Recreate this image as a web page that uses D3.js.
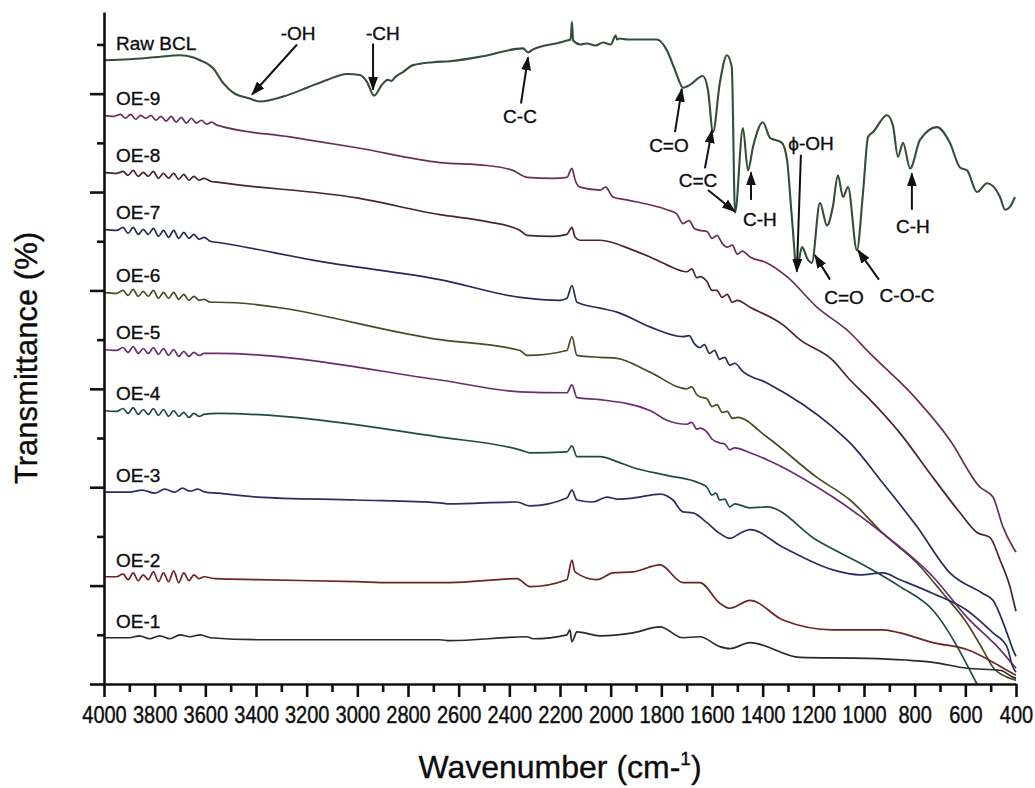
<!DOCTYPE html>
<html>
<head>
<meta charset="utf-8">
<script src="https://cdn.jsdelivr.net/npm/d3@7"></script>
<style>
  body { margin: 0; background: #fff; }
  text { font-family: "Liberation Sans", Arial, sans-serif; fill: #0d0d0d; stroke: #0d0d0d; stroke-width: 0.35px; }
</style>
</head>
<body>
<div id="chart"></div>
<script>
// FTIR spectra: [wavenumber (cm-1), transmittance (offset, a.u.)]
var seriesNames = ["Raw BCL", "OE-9", "OE-8", "OE-7", "OE-6", "OE-5", "OE-4", "OE-3", "OE-2", "OE-1"];
var seriesColors = ["#364d3a", "#6b2f55", "#4a2430", "#262a5a", "#4b4a22", "#6b2c6e", "#1f4a48", "#2a2e60", "#6e2424", "#2a2a2a"];

var rawBCL = [[4000,63.4],[3900,63.5],[3800,63.7],[3700,63.9],[3650,63.7],[3621,63.4],[3570,62.6],[3530,61.1],[3490,60.1],[3424,59.5],[3384,59.2],[3293,59.7],[3199,60.6],[3120,61.4],[3041,62.0],[2990,61.9],[2962,61.2],[2934,59.8],[2903,60.9],[2880,61.4],[2865,61.3],[2850,61.7],[2820,62.2],[2780,62.9],[2701,63.2],[2634,63.3],[2504,63.8],[2346,64.6],[2326,64.2],[2306,64.5],[2200,65.2],[2173,65.4],[2158,65.5],[2153,67.3],[2148,65.4],[2120,65.0],[2094,65.1],[2060,64.9],[2030,65.2],[2000,65.0],[1980,65.9],[1975,65.5],[1965,65.6],[1935,65.5],[1817,65.5],[1778,64.4],[1746,62.4],[1714,60.6],[1687,60.9],[1636,61.8],[1616,60.4],[1596,56.1],[1569,61.1],[1541,63.9],[1522,62.7],[1509,47.9],[1478,56.5],[1458,52.2],[1438,54.6],[1399,57.1],[1371,55.5],[1351,55.3],[1324,55.0],[1304,53.3],[1284,47.2],[1265,42.1],[1245,44.4],[1221,43.1],[1206,42.8],[1174,48.9],[1146,46.6],[1123,48.5],[1103,51.7],[1083,49.5],[1063,50.5],[1028,44.1],[1004,49.9],[984,55.6],[964,56.1],[909,57.8],[886,56.8],[866,53.6],[846,55.0],[818,52.4],[779,55.3],[712,56.6],[661,55.0],[621,52.5],[593,52.2],[554,50.0],[514,50.9],[463,49.5],[443,48.2],[424,48.5],[404,49.5]];

var oe9 = [[4000,57.8],[3960,57.7],[3935,57.9],[3915,57.5],[3895,57.9],[3875,57.4],[3855,57.8],[3835,57.5],[3815,57.8],[3795,57.3],[3775,57.7],[3755,57.2],[3735,57.7],[3715,57.1],[3695,57.6],[3675,57.0],[3655,57.5],[3635,57.0],[3615,57.3],[3595,56.9],[3575,57.1],[3554,56.8],[3266,55.6],[3001,54.5],[2674,53.0],[2488,52.7],[2386,52.2],[2330,51.5],[2228,51.4],[2173,51.5],[2153,52.4],[2140,51.2],[2121,50.5],[2042,50.2],[2020,50.5],[1991,49.5],[1936,49.2],[1778,48.2],[1740,47.8],[1715,46.8],[1690,47.1],[1670,46.3],[1648,46.1],[1620,46.0],[1600,45.3],[1580,45.6],[1560,44.8],[1541,44.4],[1520,44.6],[1500,43.7],[1480,44.0],[1450,43.4],[1383,42.8],[1304,41.4],[1186,38.3],[1055,35.7],[988,33.9],[791,28.9],[661,24.8],[542,20.0],[491,19.0],[452,16.0],[412,13.9],[400,13.4]];

var oe8 = [[4000,52.0],[3950,51.9],[3925,52.1],[3905,51.7],[3885,52.2],[3865,51.6],[3845,52.0],[3825,51.6],[3805,52.1],[3785,51.4],[3765,51.9],[3745,51.4],[3725,51.9],[3705,51.3],[3685,51.8],[3665,51.2],[3645,51.6],[3625,51.2],[3605,51.4],[3580,51.1],[3554,51.0],[3001,49.4],[2674,47.7],[2488,47.0],[2358,46.1],[2330,45.6],[2228,45.5],[2173,45.7],[2153,46.4],[2140,45.4],[2121,45.1],[2042,45.1],[1912,44.1],[1845,43.4],[1778,42.6],[1700,41.9],[1680,42.2],[1660,41.3],[1648,41.4],[1620,40.9],[1600,40.0],[1581,40.0],[1560,39.3],[1540,39.6],[1520,38.8],[1500,39.0],[1450,38.3],[1320,36.5],[1253,35.0],[1123,32.9],[1055,30.9],[988,29.2],[858,25.5],[728,21.0],[621,17.4],[554,15.4],[503,14.9],[463,12.6],[424,9.9],[404,7.8],[400,7.4]];

var oe7 = [[4000,46.2],[3950,46.1],[3925,46.4],[3905,45.8],[3885,46.4],[3865,45.7],[3845,46.2],[3825,45.7],[3805,46.3],[3785,45.5],[3765,46.1],[3745,45.4],[3725,46.1],[3705,45.3],[3685,45.9],[3665,45.3],[3645,45.7],[3625,45.2],[3605,45.4],[3580,45.0],[3554,44.9],[3136,42.9],[2674,41.1],[2358,39.3],[2200,39.0],[2173,39.2],[2153,40.5],[2133,38.8],[2042,38.2],[1975,37.8],[1845,36.3],[1715,35.3],[1690,35.4],[1670,34.6],[1648,34.2],[1630,34.5],[1610,33.6],[1590,33.9],[1570,33.0],[1550,33.2],[1530,32.4],[1510,32.6],[1480,31.8],[1383,30.6],[1123,26.1],[1055,24.5],[925,20.4],[791,16.0],[661,11.3],[531,9.2],[491,8.5],[436,5.2],[412,3.5],[400,2.8]];

var oe6 = [[4000,39.8],[3950,39.7],[3925,40.0],[3905,39.5],[3885,40.1],[3865,39.4],[3845,39.9],[3825,39.4],[3805,40.0],[3785,39.2],[3765,39.8],[3745,39.2],[3725,39.8],[3705,39.1],[3685,39.6],[3665,39.0],[3645,39.4],[3625,39.0],[3605,39.1],[3580,38.8],[3554,38.8],[2674,35.0],[2358,33.9],[2330,33.4],[2173,33.9],[2153,35.3],[2133,33.4],[2042,33.2],[1975,33.1],[1845,31.7],[1700,30.0],[1680,30.2],[1660,29.4],[1648,29.2],[1620,29.0],[1600,28.2],[1580,28.4],[1560,27.6],[1540,27.7],[1520,27.0],[1500,27.1],[1383,25.1],[1186,21.0],[1055,18.7],[925,15.3],[791,12.3],[688,9.2],[594,6.2],[531,3.5],[491,1.7],[436,0.7],[400,0.4]];

var oe5 = [[4000,34.0],[3950,33.9],[3925,34.2],[3905,33.7],[3885,34.3],[3865,33.6],[3845,34.1],[3825,33.6],[3805,34.2],[3785,33.5],[3765,34.1],[3745,33.4],[3725,34.0],[3705,33.3],[3685,33.8],[3665,33.3],[3645,33.7],[3625,33.4],[3605,33.6],[3554,33.6],[2674,30.9],[2358,29.7],[2173,29.6],[2153,30.4],[2133,29.1],[2042,28.9],[1845,27.8],[1778,26.8],[1700,26.4],[1680,26.6],[1660,25.9],[1648,26.0],[1620,25.6],[1600,24.9],[1569,24.5],[1550,24.4],[1530,23.8],[1510,24.0],[1450,23.5],[1383,22.8],[1123,19.0],[925,15.3],[728,10.9],[594,6.8],[463,3.5],[400,1.6]];

var oe4 = [[4000,27.8],[3950,27.7],[3925,28.0],[3905,27.5],[3885,28.1],[3865,27.4],[3845,27.9],[3825,27.4],[3805,28.0],[3785,27.3],[3765,27.9],[3745,27.2],[3725,27.8],[3705,27.2],[3685,27.6],[3665,27.1],[3645,27.5],[3625,27.2],[3605,27.4],[3554,27.5],[2674,25.1],[2358,23.8],[2319,23.5],[2173,23.6],[2153,24.2],[2133,23.1],[2042,23.1],[1975,22.6],[1912,22.0],[1778,21.2],[1648,20.4],[1620,20.0],[1600,19.2],[1585,19.4],[1569,18.7],[1550,18.8],[1530,18.0],[1510,18.3],[1450,17.9],[1383,18.0],[1186,14.6],[988,11.9],[858,9.9],[728,7.5],[554,0.0]];

var oe3 = [[4000,19.5],[3900,19.5],[3850,19.7],[3800,19.4],[3760,19.8],[3720,19.5],[3690,19.9],[3661,19.6],[3630,19.8],[3600,19.5],[3550,19.4],[3396,19.0],[3001,18.7],[2674,18.4],[2634,18.3],[2370,18.5],[2319,18.1],[2173,18.9],[2153,19.7],[2133,18.7],[2070,18.5],[2015,19.0],[1975,18.8],[1912,18.9],[1805,19.3],[1754,18.7],[1715,17.5],[1675,17.4],[1620,16.4],[1569,15.3],[1529,14.8],[1490,15.3],[1450,15.7],[1320,13.9],[1123,11.6],[1016,11.1],[925,11.3],[858,10.6],[728,9.2],[594,7.5],[491,5.2],[436,3.8],[412,1.7],[400,1.2]];

var oe2 = [[4000,10.9],[3950,10.9],[3925,11.2],[3905,10.6],[3885,11.3],[3865,10.5],[3845,11.1],[3825,10.6],[3805,11.4],[3785,10.4],[3765,11.3],[3745,10.4],[3725,11.5],[3705,10.3],[3685,11.3],[3665,10.5],[3645,11.1],[3625,10.7],[3605,10.9],[3560,10.7],[3396,10.6],[3001,10.4],[2871,10.3],[2634,10.3],[2370,10.7],[2319,9.9],[2173,10.6],[2153,12.6],[2141,11.4],[2054,10.6],[1991,11.3],[1912,11.4],[1805,12.1],[1715,10.3],[1648,10.3],[1569,8.2],[1529,7.7],[1450,8.5],[1320,6.5],[1123,5.5],[925,5.5],[858,5.2],[728,4.2],[594,3.5],[503,2.4],[436,1.4],[400,0.9]];

var oe1 = [[4000,4.7],[3900,4.7],[3860,4.9],[3820,4.6],[3780,4.9],[3740,4.6],[3700,5.0],[3661,4.8],[3620,5.0],[3580,4.7],[3396,4.5],[2674,4.5],[2634,4.4],[2330,4.8],[2306,4.6],[2173,5.0],[2161,5.5],[2153,4.3],[2133,5.3],[2042,4.9],[1912,5.2],[1805,5.8],[1715,4.7],[1648,4.8],[1569,3.8],[1529,3.6],[1450,4.2],[1253,2.7],[988,2.6],[728,2.2],[594,1.6],[463,1.4],[412,0.7],[400,0.6]];

var seriesData = [rawBCL, oe9, oe8, oe7, oe6, oe5, oe4, oe3, oe2, oe1];

var xTicks = [4000, 3800, 3600, 3400, 3200, 3000, 2800, 2600, 2400, 2200, 2000, 1800, 1600, 1400, 1200, 1000, 800, 600, 400];
var xMinorTicks = [3900, 3700, 3500, 3300, 3100, 2900, 2700, 2500, 2300, 2100, 1900, 1700, 1500, 1300, 1100, 900, 700, 500];
var yTicks = [0, 10, 20, 30, 40, 50, 60];
var yMinorTicks = [5, 15, 25, 35, 45, 55, 65];

// band assignments on the raw spectrum: label, label position, arrow tail -> tip (wavenumber, value)
var annotations = [
  { text: "-OH",   at: [3234, 65.5], arrows: [[[3238, 65.0], [3416, 59.9]]] },
  { text: "-CH",   at: [2899, 65.5], arrows: [[[2938, 65.1], [2938, 60.4]]] },
  { text: "C-C",   at: [2358, 57.0], arrows: [[[2354, 59.0], [2326, 63.7]]] },
  { text: "C=O",   at: [1770, 54.1], arrows: [[[1746, 56.1], [1719, 60.5]]] },
  { text: "C=C",   at: [1655, 50.5], arrows: [[[1628, 52.4], [1600, 56.3]], [[1616, 50.2], [1509, 48.0]]] },
  { text: "C-H",   at: [1411, 46.6], arrows: [[[1446, 49.2], [1446, 52.0]]] },
  { text: "\u03d5-OH", at: [1209, 54.3], arrows: [[[1249, 53.8], [1265, 41.9]]] },
  { text: "C=O",   at: [1079, 38.6], arrows: [[[1134, 41.1], [1194, 43.6]]] },
  { text: "C-O-C", at: [830, 38.8],  arrows: [[[941, 41.1], [1024, 44.1]]] },
  { text: "C-H",   at: [807, 45.8],  arrows: [[[811, 48.2], [811, 51.9]]] }
];

var width = 1035, height = 788;

var x = d3.scaleLinear().domain([4000, 400]).range([104, 1016]);
var y = d3.scaleLinear().domain([0, 68.3]).range([684, 12]);

var svg = d3.select("#chart").append("svg")
    .attr("width", width)
    .attr("height", height);

svg.append("defs").append("clipPath")
    .attr("id", "plot-clip")
  .append("rect")
    .attr("x", 104).attr("y", 0)
    .attr("width", 914).attr("height", 684);

svg.select("defs").append("marker")
    .attr("id", "arrow")
    .attr("markerUnits", "userSpaceOnUse")
    .attr("viewBox", "0 0 14 10")
    .attr("markerWidth", 14).attr("markerHeight", 10)
    .attr("refX", 13).attr("refY", 5)
    .attr("orient", "auto")
  .append("path")
    .attr("d", "M0,0 L14,5 L0,10 Z")
    .attr("fill", "#111");

var line = d3.line()
    .x(function(d) { return x(d[0]); })
    .y(function(d) { return y(d[1]); })
    .curve(d3.curveMonotoneX);

// spectra
svg.append("g")
    .attr("clip-path", "url(#plot-clip)")
  .selectAll(".spectrum")
    .data(seriesData)
  .enter().append("path")
    .attr("class", "spectrum")
    .attr("fill", "none")
    .attr("stroke", function(d, i) { return seriesColors[i]; })
    .attr("stroke-width", function(d, i) { return i === 0 ? 2.1 : 1.7; })
    .attr("stroke-linejoin", "round")
    .attr("d", line);

// sample labels, just above the start of each trace
svg.selectAll(".series-label")
    .data(seriesData)
  .enter().append("text")
    .attr("class", "series-label")
    .attr("x", 116)
    .attr("y", function(d) { return y(d[0][1]) - 10; })
    .style("font-size", "19px")
    .text(function(d, i) { return seriesNames[i]; });

// annotations
var ann = svg.append("g").attr("class", "annotations");
annotations.forEach(function(a) {
  ann.append("text")
      .attr("x", x(a.at[0]))
      .attr("y", y(a.at[1]))
      .attr("text-anchor", "middle")
      .style("font-size", "19px")
      .text(a.text);
  a.arrows.forEach(function(ar) {
    ann.append("line")
        .attr("x1", x(ar[0][0])).attr("y1", y(ar[0][1]))
        .attr("x2", x(ar[1][0])).attr("y2", y(ar[1][1]))
        .attr("stroke", "#111")
        .attr("stroke-width", 2)
        .attr("marker-end", "url(#arrow)");
  });
});

// axes
var xAxis = svg.append("g")
    .attr("transform", "translate(0,684)")
    .call(d3.axisBottom(x).tickValues(xTicks).tickSize(13).tickSizeOuter(0).tickFormat(d3.format("d")));
// tick labels in the original are a little taller than wide
xAxis.selectAll("text")
    .attr("dy", null)
    .attr("y", 39 / 1.15)
    .attr("transform", "scale(1,1.15)")
    .style("font-size", "20px")
    .attr("fill", "#0d0d0d");

var xMinor = svg.append("g")
    .attr("transform", "translate(0,684)")
    .call(d3.axisBottom(x).tickValues(xMinorTicks).tickSize(8).tickSizeOuter(0).tickFormat(""));
xMinor.select(".domain").remove();

var yAxis = svg.append("g")
    .attr("transform", "translate(104,0)")
    .call(d3.axisLeft(y).tickValues(yTicks).tickSize(14).tickSizeOuter(0).tickFormat(""));

var yMinor = svg.append("g")
    .attr("transform", "translate(104,0)")
    .call(d3.axisLeft(y).tickValues(yMinorTicks).tickSize(7).tickSizeOuter(0).tickFormat(""));
yMinor.select(".domain").remove();

svg.selectAll(".domain, .tick line")
    .attr("stroke", "#111")
    .attr("stroke-width", 2.6);

// axis titles
var xTitle = svg.append("text")
    .attr("x", 560)
    .attr("y", 778)
    .attr("text-anchor", "middle")
    .style("font-size", "32px");
xTitle.append("tspan").text("Wavenumber (cm-");
xTitle.append("tspan").attr("dy", -13).style("font-size", "19px").text("1");
xTitle.append("tspan").attr("dy", 13).text(")");

svg.append("text")
    .attr("transform", "translate(37,358) rotate(-90)")
    .attr("text-anchor", "middle")
    .style("font-size", "31px")
    .text("Transmittance (%)");
</script>
</body>
</html>
